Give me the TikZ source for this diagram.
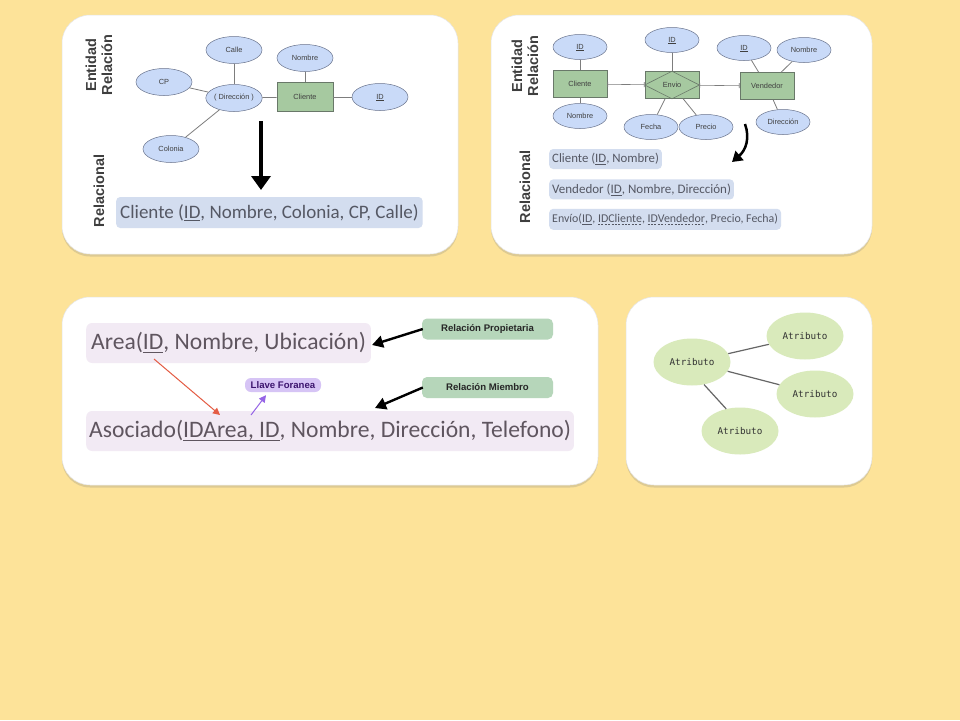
\documentclass[tikz,border=0pt]{standalone}
\usepackage{fontspec}
\setmainfont{Liberation Sans}
\newfontfamily\relfont{Carlito}
\newfontfamily\attrfont{DejaVu Sans Mono}
\usetikzlibrary{arrows.meta,positioning,shapes.geometric,shadows}

% key underlines (solid for primary, dashed for foreign keys)
\newcommand{\pkey}[1]{\leavevmode\setbox0\hbox{#1}%
  \rlap{\vrule width\wd0 height -0.1em depth 0.145em}\box0}
\newcommand{\fkey}[1]{\leavevmode\setbox0\hbox{#1}%
  \rlap{\hbox to\wd0{\xleaders\hbox{\vrule width 0.16em height -0.1em depth 0.145em\hskip0.12em}\hfil}}\box0}

\definecolor{bgyellow}{RGB}{253,227,153}
\definecolor{attrblue}{RGB}{201,218,248}
\definecolor{attrline}{RGB}{105,115,140}
\definecolor{entgreen}{RGB}{166,201,160}
\definecolor{entline}{RGB}{105,120,105}
\definecolor{linkgray}{RGB}{125,125,125}
\definecolor{sidegray}{RGB}{62,62,62}
\definecolor{relblue}{RGB}{211,221,239}
\definecolor{rellila}{RGB}{242,234,244}
\definecolor{inkgray}{RGB}{85,88,100}
\definecolor{inklila}{RGB}{95,85,95}
\definecolor{taggreen}{RGB}{182,214,186}
\definecolor{tagviolet}{RGB}{214,196,245}
\definecolor{inkviolet}{RGB}{60,20,110}
\definecolor{attrgreen}{RGB}{217,234,187}
\definecolor{fkred}{RGB}{228,92,68}
\definecolor{fkviolet}{RGB}{150,100,230}

\begin{document}
\begin{tikzpicture}[
  x=1pt, y=-1pt,
  font=\fontsize{7.4}{8}\selectfont,
  panel/.style={fill=white, draw=black!10, line width=0.5pt, rounded corners=28pt,
    drop shadow={opacity=0.25, shadow xshift=0pt, shadow yshift=-2.5pt}},
  side/.style={rotate=90, align=center, text=sidegray,
    font=\fontsize{14.5}{16}\selectfont\bfseries},
  attr/.style={ellipse, draw=attrline, line width=0.5pt, fill=attrblue,
    minimum width=56pt, minimum height=27pt, inner sep=0pt, text=black!75},
  attrs/.style={attr, minimum width=54pt, minimum height=25pt},
  ent/.style={draw=entline, line width=0.6pt, fill=entgreen,
    minimum width=56pt, minimum height=29pt, inner sep=0pt, text=black!75},
  ents/.style={ent, minimum width=54pt, minimum height=27pt},
  link/.style={draw=linkgray, line width=0.8pt},
  card/.style={link, line width=0.6pt, {Bar[width=5pt,line width=0.9pt]}-{Bar[width=5pt,line width=0.9pt]}},
  rel/.style={anchor=west, rounded corners=4pt, inner ysep=0pt, inner xsep=3pt},
  relc/.style={rel, fill=relblue, text=inkgray},
  rell/.style={rel, fill=rellila, text=inklila, rounded corners=6pt,
    minimum height=40pt, font=\relfont\fontsize{23.6}{25}\selectfont},
  tag/.style={fill=taggreen, rounded corners=5pt, minimum width=131pt, minimum height=21pt,
    inner sep=0pt, text=black!85, font=\fontsize{9.6}{10}\selectfont\bfseries},
  fktag/.style={fill=tagviolet, rounded corners=6pt, minimum width=76pt, minimum height=14pt,
    inner sep=0pt, text=inkviolet, font=\fontsize{9.6}{10}\selectfont\bfseries},
  blob/.style={ellipse, fill=attrgreen, minimum width=77pt, minimum height=47pt, inner sep=0pt,
    text=black!80, font=\attrfont\fontsize{9.3}{10}\selectfont},
  bigarr/.style={line width=3.5pt, -{Triangle[width=19pt,length=14pt]}},
  handarr/.style={line width=2.4pt, -{Triangle[width=12pt,length=11pt]}},
  thinarr/.style={line width=1pt, -{Triangle[width=7pt,length=7pt]}}
]
\useasboundingbox (0,0) rectangle (960,720);
\fill[bgyellow] (0,0) rectangle (960,720);

% the four cards
\path[panel] (62,15) rectangle (458,254);
\path[panel] (491,15) rectangle (872,254);
\path[panel] (62,297) rectangle (598,485);
\path[panel] (626,297) rectangle (872,485);

% --- card 1: composite attribute
\node[side] (er1) at (99,65) {Entidad\\Relación};
\node[side] (rl1) at (99,191) {Relacional};
\node[attr] (calle) at (234,50) {Calle};
\node[attr] (nom1) at (305,58) {Nombre};
\node[attr] (cp) at (164,82) {CP};
\node[attr] (dir1) at (234,98) {( Dirección )};
\node[ent] (cli1) at (305,97) {Cliente};
\node[attr] (id1) at (380,97) {\pkey{ID}};
\node[attr] (col) at (171,149) {Colonia};
\draw[link] (calle) -- (dir1);
\draw[link] (cp) -- (dir1);
\draw[link] (col) -- (dir1);
\draw[link] (dir1) -- (cli1);
\draw[link] (nom1) -- (cli1);
\draw[link] (cli1) -- (id1);
\coordinate (a1s) at (261,121);
\coordinate (a1e) at (261,190);
\draw[bigarr] (a1s) -- (a1e);
\node[relc, minimum height=31pt, inner xsep=4pt,
  font=\relfont\fontsize{19}{20}\selectfont] (r1) at (116,212.5)
  {Cliente (\pkey{ID}, Nombre, Colonia, CP, Calle)};

% --- card 2: relationship with attributes
\node[side] (er2) at (525,66) {Entidad\\Relación};
\node[side] (rl2) at (525,187) {Relacional};
\node[attrs] (idc) at (580,47) {\pkey{ID}};
\node[ents] (cli2) at (580,84) {Cliente};
\node[attrs] (nomc) at (580,116) {Nombre};
\node[attrs] (ide) at (672,40) {\pkey{ID}};
\node[ents] (env) at (672,85) {Envio};
\draw[entline, line width=0.6pt] (env.west) -- (env.north) -- (env.east) -- (env.south) -- cycle;
\node[attrs] (fec) at (651,127) {Fecha};
\node[attrs] (pre) at (706,127) {Precio};
\node[attrs] (idv) at (744,48) {\pkey{ID}};
\node[attrs] (nomv) at (804,50) {Nombre};
\node[ents] (ven) at (767,86) {Vendedor};
\node[attrs] (dirv) at (783,122) {Dirección};
\draw[link] (idc) -- (cli2);
\draw[link] (nomc) -- (cli2);
\draw[link] (ide) -- (env);
\draw[link] (fec) -- (env);
\draw[link] (pre) -- (env);
\draw[link] (idv) -- (ven);
\draw[link] (nomv) -- (ven);
\draw[link] (dirv) -- (ven);
\draw[card] (cli2) -- (env);
\draw[card] (env) -- (ven);
\coordinate (c2s) at (745,124);
\coordinate (c2e) at (732,162);
\draw[line width=2.5pt, -{Triangle[width=12pt,length=10pt]}]
  (c2s) .. controls (750,138) and (746,150) .. (c2e);
\node[relc, minimum height=20pt, font=\relfont\fontsize{12.8}{14}\selectfont] (rc) at (549,159)
  {Cliente (\pkey{ID}, Nombre)};
\node[relc, minimum height=20pt, font=\relfont\fontsize{13}{14}\selectfont,
  below=10pt of rc.south west, anchor=north west] (rv)
  {Vendedor (\pkey{ID}, Nombre, Dirección)};
\node[relc, minimum height=21pt, font=\relfont\fontsize{11.9}{14}\selectfont,
  below=9pt of rv.south west, anchor=north west] (re)
  {Envío(\pkey{ID}, \fkey{IDCliente}, \fkey{IDVendedor}, Precio, Fecha)};

% --- card 3: owner and member relations
\node[rell, inner xsep=5pt] (area) at (86,343) {Area(\pkey{ID}, Nombre, Ubicación)};
\node[rell] (asoc) at (86,431) {Asociado(\pkey{IDArea, ID}, Nombre, Dirección, Telefono)};
\node[tag] (prop) at (487.5,329) {Relación Propietaria};
\node[tag] (miem) at (487.5,387.5) {Relación Miembro};
\node[fktag] (fk) at (283,385) {Llave Foranea};
\coordinate (ptip) at (372,345);
\coordinate (mtip) at (375,408);
\draw[handarr] ([xshift=1pt]prop.west) -- (ptip);
\draw[handarr] ([xshift=1pt]miem.west) -- (mtip);
\coordinate (fks) at (154,359);
\coordinate (fke) at (220,415);
\draw[thinarr, fkred] (fks) -- (fke);
\coordinate (fkp) at (251,415);
\draw[thinarr, fkviolet] (fkp) -- ([xshift=-17pt,yshift=-3pt]fk.south);

% --- card 4: attribute cluster
\node[blob] (at0) at (692,362) {Atributo};
\node[blob] (at1) at (805,336) {Atributo};
\node[blob] (at2) at (815,394) {Atributo};
\node[blob] (at3) at (740,431) {Atributo};
\draw[link, draw=black!60, line width=1.2pt] (at0) -- (at1);
\draw[link, draw=black!60, line width=1.2pt] (at0) -- (at2);
\draw[link, draw=black!60, line width=1.2pt] (at0.-62) -- (at3.122);
\end{tikzpicture}
\end{document}
